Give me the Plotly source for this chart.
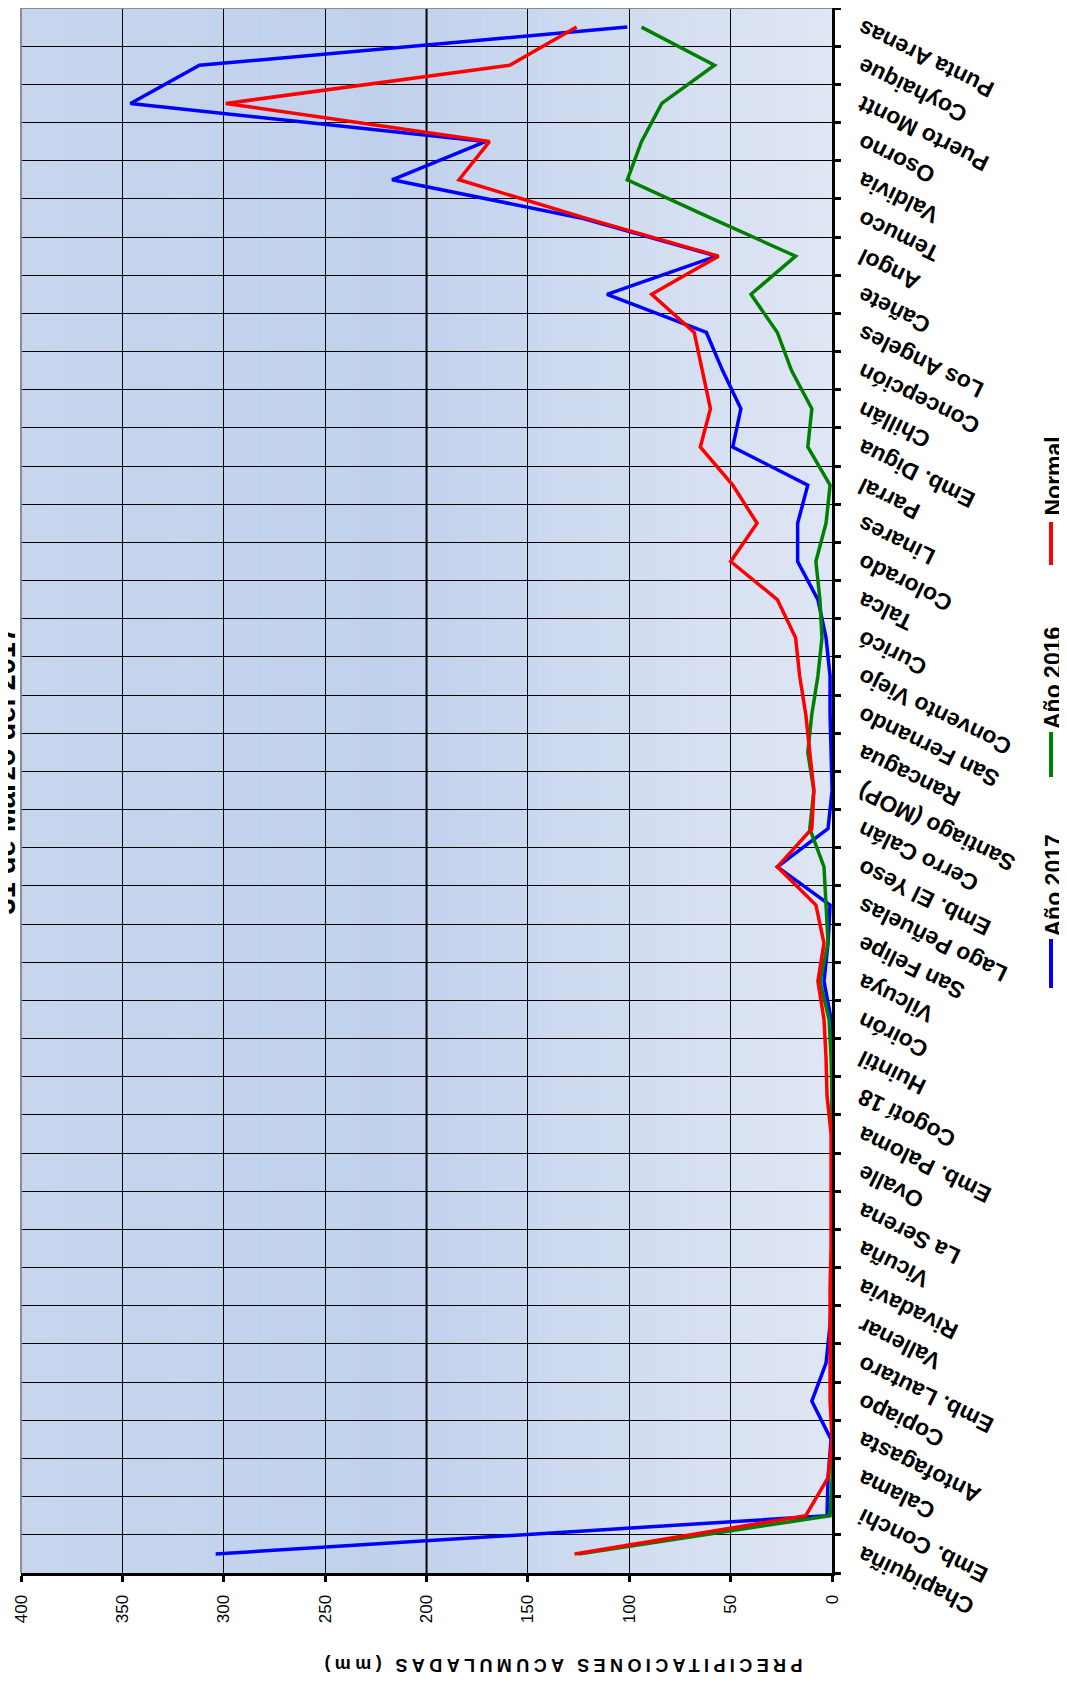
import plotly.graph_objects as go

# ---------------- data ----------------
stations = ["Chapiquiña", "Emb. Conchi", "Calama", "Antofagasta", "Copiapo",
            "Emb. Lautaro", "Vallenar", "Rivadavia", "Vicuña", "La Serena",
            "Ovalle", "Emb. Paloma", "Cogotí 18", "Huintil", "Coirón",
            "Vilcuya", "San Felipe", "Lago Peñuelas", "Emb. El Yeso", "Cerro Calán",
            "Santiago (MOP)", "Rancagua", "San Fernando", "Convento Viejo", "Curicó",
            "Talca", "Colorado", "Linares", "Parral", "Emb. Digua",
            "Chillán", "Concepción", "Los Angeles", "Cañete", "Angol",
            "Temuco", "Valdivia", "Osorno", "Puerto Montt", "Coyhaique",
            "Punta Arenas"]

anio_2017 = [304, 2.5, 2, 0.5, 10, 3, 1, 0, 0, 0,
             0, 0, 0, 0, 0.5, 4, 2, 1, 27, 2,
             0, 0.5, 1, 1, 3, 7, 17, 17, 12, 49,
             45, 54, 62, 111, 57, 124, 217, 171, 346, 312,
             101]

anio_2016 = [125, 1, 0, 0, 0, 0, 0, 0, 0, 0,
             0, 0, 0, 0.5, 1.5, 6, 2, 3, 4, 11,
             9, 12, 10, 7, 5, 6, 8, 3, 1, 12,
             10, 20, 27, 40, 18, 60, 101, 94, 84, 58,
             94]

normal = [127, 13, 2, 0, 1, 1, 1, 1, 0.5, 0.5,
          0.5, 0.5, 2.5, 3, 4, 7, 4, 8, 27, 10,
          9, 11, 13, 16, 18, 27, 50, 37, 49, 65,
          60, 64, 68, 89, 56, 122, 184, 169, 299, 159,
          126]

series_names = ["Año 2017", "Año 2016", "Normal"]
series_colors = ["#0000ff", "#008000", "#ff0000"]
value_ticks = [0, 50, 100, 150, 200, 250, 300, 350, 400]

title_text = "31 de Marzo del 2017"
axis_title = "PRECIPITACIONES ACUMULADAS (mm)"

# ---------------- geometry helpers ----------------
OFF = 8                      # page body margin of the browser
W, H = 1067 - OFF, 1688 - OFF
ML, MR, MT, MB = 12.5, 10, 0, 115
PW, PH = W - ML - MR, H - MT - MB
PLOT_RIGHT_SX = 832          # screen x of the value-0 axis
XDOM_R = (PLOT_RIGHT_SX - OFF - ML) / PW


def px_x(sx):
    """screen x -> paper x"""
    return (sx - OFF - ML) / PW


def px_y(sy):
    """screen y -> paper y"""
    return (H - MB - (sy - OFF)) / PH


FONT = "Liberation Sans, Arial, sans-serif"

fig = go.Figure()

for name, vals, col in zip(series_names, [anio_2017, anio_2016, normal], series_colors):
    fig.add_trace(go.Scatter(x=vals, y=stations, mode="lines", name=name,
                             line=dict(color=col, width=3.5), showlegend=False,
                             xaxis="x", yaxis="y"))

# invisible helper trace so the label axis knows its categories
fig.add_trace(go.Scatter(x=[0] * len(stations), y=stations, mode="markers",
                         marker=dict(opacity=0), showlegend=False,
                         hoverinfo="skip", xaxis="x", yaxis="y2"))

shapes = []
# background gradient (plot area)
NB = 100


def bg_color(t):
    # t = 0 at left edge (400) -> 1 at right edge (0)
    c_left = (199, 214, 238)
    c_mid = (192, 209, 236)
    c_right = (223, 230, 244)
    if t < 0.45:
        f = t / 0.45
        a, b = c_left, c_mid
    else:
        f = (t - 0.45) / 0.55
        a, b = c_mid, c_right
    return "rgb(%d,%d,%d)" % tuple(round(a[i] + (b[i] - a[i]) * f) for i in range(3))


for k in range(NB):
    x0 = XDOM_R * k / NB
    x1 = XDOM_R * (k + 1) / NB
    shapes.append(dict(type="rect", xref="paper", yref="paper", x0=x0, x1=x1 + 0.0005,
                       y0=0, y1=1, fillcolor=bg_color((k + 0.5) / NB),
                       line=dict(width=0), layer="below"))

# emphasised 200 gridline
shapes.append(dict(type="line", xref="x", yref="paper", x0=200, x1=200, y0=0, y1=1,
                   line=dict(color="black", width=2), layer="below"))
# gray plot-area border (left & top)
shapes.append(dict(type="line", xref="paper", yref="paper", x0=0, x1=0, y0=0, y1=1,
                   line=dict(color="#8c8c8c", width=2)))
shapes.append(dict(type="line", xref="paper", yref="paper", x0=0, x1=XDOM_R, y0=1, y1=1,
                   line=dict(color="#8c8c8c", width=2)))

annotations = []
# custom rotated legend  (screen px: text top,bottom ; line top,bottom)
legend_items = [
    ((834, 937), (939, 988)),
    ((624, 732), (732, 777)),
    ((436, 517), (522, 565)),
]
LEG_X = 1051
for name, col, (trng, lrng) in zip(series_names, series_colors, legend_items):
    shapes.append(dict(type="line", xref="paper", yref="paper",
                       x0=px_x(LEG_X), x1=px_x(LEG_X), y0=px_y(lrng[1]), y1=px_y(lrng[0]),
                       line=dict(color=col, width=4)))
    annotations.append(dict(text=name, textangle=-90, showarrow=False,
                            xref="paper", yref="paper", x=px_x(LEG_X + 2),
                            y=px_y((trng[0] + trng[1]) / 2), xanchor="center", yanchor="middle",
                            font=dict(family=FONT, size=23, color="black", weight="bold")))

# title (partly cut off at the left edge)
annotations.append(dict(text=title_text, textangle=-90, showarrow=False,
                        xref="paper", yref="paper", x=px_x(23), y=px_y(770),
                        xanchor="right", yanchor="middle",
                        font=dict(family=FONT, size=29, color="black", weight="bold")))

# axis title (upside down)
annotations.append(dict(text='<span style="letter-spacing:4.4px">' + axis_title + '</span>',
                        textangle=180, showarrow=False,
                        xref="paper", yref="paper", x=px_x(561), y=px_y(1665),
                        xanchor="center", yanchor="middle",
                        font=dict(family=FONT, size=18, color="black", weight="bold")))

fig.update_layout(
    width=W, height=H, template="none",
    paper_bgcolor="white", plot_bgcolor="white",
    margin=dict(l=ML, r=MR, t=MT, b=MB, pad=0),
    showlegend=False,
    xaxis=dict(domain=[0, XDOM_R], range=[400, 0], tickmode="array", tickvals=value_ticks,
               ticks="outside", ticklen=6, tickwidth=3, tickcolor="black",
               showline=True, linecolor="black", linewidth=3,
               showgrid=True, gridcolor="black", gridwidth=1, zeroline=False,
               tickangle=-90, ticklabelstandoff=6,
               tickfont=dict(family=FONT, size=17, color="black"),
               anchor="y", automargin=False),
    yaxis=dict(type="category", categoryorder="array", categoryarray=stations,
               range=[-0.5, len(stations) - 0.5], side="right", anchor="x",
               showline=True, linecolor="black", linewidth=3,
               ticks="outside", ticklen=6, tickwidth=3, tickcolor="black",
               tickson="boundaries", showgrid=True, gridcolor="black", gridwidth=1,
               showticklabels=False, zeroline=False, automargin=False),
    yaxis2=dict(type="category", categoryorder="array", categoryarray=stations,
                range=[-0.5, len(stations) - 0.5], overlaying="y", side="left",
                anchor="free", position=px_x(858), showline=False, showgrid=False,
                ticks="", tickmode="array", tickvals=stations, ticktext=stations,
                tickangle=-154, ticklabelshift=6,
                tickfont=dict(family=FONT, size=23, color="black", weight="bold"),
                zeroline=False, automargin=False),
    shapes=shapes,
    annotations=annotations,
)

fig.write_html("out.html")
